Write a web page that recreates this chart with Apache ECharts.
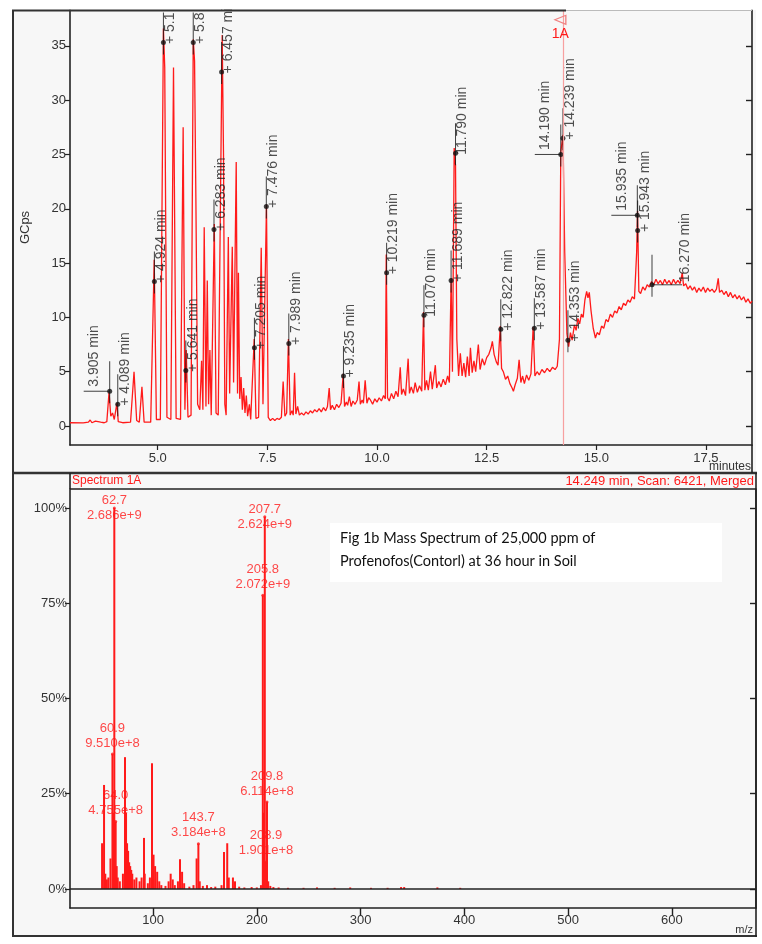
<!DOCTYPE html>
<html>
<head>
<meta charset="utf-8">
<script src="https://cdn.jsdelivr.net/npm/echarts@6/dist/echarts.min.js"></script>
<style>
  html, body { margin: 0; padding: 0; background: #fff; }
  #main { width: 762px; height: 944px; }
</style>
</head>
<body>
<div id="main"></div>
<script>
// chromatogram trace: [minutes, GCps]
var chromatogram = [
  [3.00,0.30],[3.30,0.28],[3.42,0.35],[3.46,0.55],[3.50,0.30],[3.58,0.45],[3.62,0.30],[3.70,0.35],[3.78,0.30],[3.84,0.40],
  [3.89,3.10],[3.93,0.90],[3.97,1.20],[4.01,0.60],[4.07,2.10],[4.10,0.40],[4.20,0.30],[4.38,0.35],
  [4.46,5.00],[4.52,0.50],[4.58,0.35],[4.64,3.60],[4.69,0.35],[4.84,0.35],
  [4.92,15.3],[4.97,0.6],[5.06,0.6],[5.13,36.6],[5.16,33.0],[5.21,0.8],[5.30,0.6],[5.36,33.0],[5.42,0.7],
  [5.52,0.6],[5.58,27.5],[5.62,1.5],[5.65,7.0],[5.69,0.8],[5.76,1.0],[5.81,35.6],[5.84,33.6],[5.87,21.0],[5.91,2.0],
  [5.96,1.5],[6.00,6.0],[6.03,1.5],[6.06,18.3],[6.10,1.8],[6.13,13.4],[6.16,2.0],[6.19,7.0],[6.22,1.0],
  [6.29,18.6],[6.33,1.2],[6.38,1.0],[6.47,36.0],[6.50,25.0],[6.53,2.0],[6.56,1.0],[6.61,17.4],[6.64,3.0],
  [6.70,16.5],[6.73,4.0],[6.79,24.3],[6.82,3.0],[6.84,14.1],[6.87,2.5],[6.90,4.5],[6.93,1.5],[6.96,3.5],[6.99,1.2],
  [7.02,2.8],[7.05,0.9],[7.09,2.0],[7.12,0.6],[7.20,8.0],[7.24,0.7],[7.30,0.8],[7.36,16.4],[7.40,2.0],
  [7.48,20.4],[7.52,0.8],[7.57,0.5],[7.62,0.7],[7.67,0.5],[7.72,0.7],[7.77,0.6],[7.82,0.8],[7.86,4.1],[7.90,0.9],
  [7.94,1.2],[7.98,8.0],[8.02,1.0],[8.06,1.4],[8.09,1.0],[8.12,4.9],[8.15,1.1],[8.19,1.8],[8.23,1.0],[8.28,1.2],
  [8.33,1.0],[8.38,1.3],[8.43,1.1],[8.48,1.4],[8.53,1.2],[8.58,1.5],[8.63,1.3],[8.68,1.6],[8.73,1.3],[8.78,1.7],
  [8.83,1.4],[8.87,1.8],[8.91,3.5],[8.94,1.5],[8.98,1.9],[9.03,1.5],[9.08,2.0],[9.13,1.7],[9.18,2.1],[9.23,4.8],
  [9.26,1.8],[9.30,2.2],[9.33,1.9],[9.37,2.7],[9.41,1.8],[9.45,2.3],[9.50,2.0],[9.55,2.4],[9.59,4.1],[9.62,2.0],
  [9.66,2.4],[9.69,2.1],[9.73,4.2],[9.77,2.1],[9.81,2.6],[9.85,2.4],[9.90,2.0],[9.95,2.5],[10.00,2.2],[10.05,2.6],
  [10.10,2.3],[10.15,2.8],[10.19,2.5],[10.21,15.8],[10.24,2.6],[10.28,2.3],[10.33,3.0],[10.38,2.5],[10.43,3.2],
  [10.48,2.7],[10.53,5.4],[10.56,2.9],[10.60,3.4],[10.65,2.8],[10.71,6.2],[10.74,3.0],[10.78,3.6],[10.83,3.0],
  [10.87,4.0],[10.92,3.1],[10.97,3.7],[11.02,3.2],[11.06,10.5],[11.09,3.3],[11.13,4.2],[11.17,3.3],[11.22,5.0],
  [11.26,3.4],[11.33,5.6],[11.36,3.5],[11.41,4.1],[11.46,3.6],[11.51,4.3],[11.56,3.8],[11.61,4.6],[11.65,4.0],
  [11.69,13.6],[11.72,5.0],[11.76,25.6],[11.79,24.0],[11.82,8.0],[11.86,4.6],[11.90,6.7],[11.94,4.6],[11.98,5.8],
  [12.02,4.5],[12.06,6.4],[12.10,4.6],[12.13,7.2],[12.17,4.9],[12.21,6.0],[12.25,5.0],[12.31,7.5],[12.35,5.2],
  [12.40,6.2],[12.45,5.6],[12.50,6.3],[12.55,6.6],[12.60,7.2],[12.63,7.8],[12.67,6.6],[12.72,5.9],[12.76,5.6],
  [12.81,9.2],[12.84,5.3],[12.88,5.0],[12.93,4.3],[12.98,4.6],[13.03,3.9],[13.08,3.5],[13.11,3.2],[13.15,3.8],
  [13.20,4.4],[13.24,6.1],[13.28,4.0],[13.32,4.6],[13.36,3.9],[13.41,4.7],[13.46,4.2],[13.51,4.8],[13.56,9.1],
  [13.60,4.6],[13.65,5.0],[13.70,4.7],[13.76,5.2],[13.82,4.9],[13.88,5.3],[13.94,5.0],[14.00,5.4],[14.06,5.2],
  [14.11,5.5],[14.16,8.0],[14.19,25.2],[14.24,26.8],[14.28,16.0],[14.33,8.5],[14.37,7.3],[14.41,8.6],[14.45,7.9],
  [14.50,9.3],[14.54,8.8],[14.58,9.9],[14.62,9.4],[14.66,10.3],[14.70,10.0],[14.74,11.6],[14.78,12.4],[14.81,11.8],
  [14.84,12.3],[14.88,10.6],[14.93,9.0],[14.98,8.1],[15.02,8.6],[15.07,8.4],[15.12,9.2],[15.17,9.0],[15.22,9.8],
  [15.27,9.6],[15.32,10.3],[15.37,10.0],[15.42,10.6],[15.47,10.4],[15.52,11.0],[15.57,10.7],[15.62,11.3],
  [15.67,11.1],[15.72,11.6],[15.77,11.4],[15.82,11.9],[15.87,11.7],[15.92,16.0],[15.94,19.8],[15.97,12.4],
  [16.01,12.2],[16.06,12.8],[16.11,12.5],[16.16,13.0],[16.21,12.8],[16.26,13.3],[16.31,13.0],[16.36,13.5],
  [16.41,13.1],[16.46,13.4],[16.51,13.0],[16.56,13.5],[16.61,13.1],[16.66,13.4],[16.71,13.0],[16.76,13.5],
  [16.81,13.1],[16.86,13.4],[16.91,13.1],[16.96,14.1],[16.99,12.9],[17.04,13.1],[17.09,12.6],[17.14,12.9],
  [17.19,12.5],[17.24,12.8],[17.29,12.3],[17.34,12.7],[17.39,12.4],[17.44,12.8],[17.49,12.3],[17.54,12.7],
  [17.59,12.4],[17.64,12.6],[17.69,12.3],[17.74,12.6],[17.78,13.6],[17.81,12.3],[17.86,12.5],[17.91,12.1],
  [17.96,12.4],[18.01,11.9],[18.06,12.3],[18.11,11.8],[18.16,12.1],[18.21,11.7],[18.26,12.0],[18.31,11.6],
  [18.36,11.9],[18.41,11.4],[18.46,11.7],[18.51,11.3],[18.55,11.5]
];

// integrated peak markers: [minutes, GCps, text]
var peakLabels = [
  [3.905, 3.2, '3.905 min'],
  [4.089, 2.0, '+ 4.089 min'],
  [4.924, 13.3, '+ 4.924 min'],
  [5.13, 35.3, '+ 5.1'],
  [5.641, 5.1, '+ 5.641 min'],
  [5.81, 35.3, '+ 5.8'],
  [6.283, 18.1, '+ 6.283 min'],
  [6.457, 32.6, '+ 6.457 min'],
  [7.205, 7.2, '+ 7.205 min'],
  [7.476, 20.2, '+ 7.476 min'],
  [7.989, 7.6, '+ 7.989 min'],
  [9.235, 4.6, '+ 9.235 min'],
  [10.219, 14.1, '+ 10.219 min'],
  [11.070, 10.2, '11.070 min'],
  [11.689, 13.4, '+ 11.689 min'],
  [11.790, 25.1, '11.790 min'],
  [12.822, 8.9, '+ 12.822 min'],
  [13.587, 9.0, '+ 13.587 min'],
  [14.190, 25.0, '14.190 min'],
  [14.239, 26.5, '+ 14.239 min'],
  [14.353, 7.9, '+ 14.353 min'],
  [15.935, 19.4, '15.935 min'],
  [15.943, 18.0, '+ 15.943 min'],
  [16.270, 13.0, '16.270 min']
];

var timeTicks = [5.0, 7.5, 10.0, 12.5, 15.0, 17.5];
var intensityTicks = [0, 5, 10, 15, 20, 25, 30, 35];

// mass spectrum sticks: [m/z, % of base peak]
var spectrumPeaks = [
  [50.9,12.0],[52.8,27.3],[54.0,4.0],[55.5,2.5],[57.0,3.0],[59.0,8.0],[60.9,35.4],[61.8,20.0],[62.7,100],
  [64.0,17.7],[65.0,6.0],[66.0,3.0],[68.0,2.0],[71.0,4.0],[73.0,34.6],[74.0,20.0],[75.0,12.0],[76.0,10.0],
  [77.0,7.0],[78.0,6.0],[79.0,5.0],[80.0,4.0],[82.0,2.5],[84.0,3.0],[87.0,2.0],[89.0,3.0],[91.3,13.4],[92.0,4.0],
  [95.0,1.5],[97.0,3.0],[99.0,33.0],[100.5,9.0],[102.0,6.0],[104.0,4.5],[106.0,2.0],[108.0,1.0],[112.0,0.8],
  [115.0,2.0],[117.0,4.0],[119.0,2.5],[121.0,1.0],[124.0,2.0],[126.0,7.8],[128.0,4.5],[130.0,1.5],[135.0,0.6],
  [139.0,1.0],[142.0,8.0],[143.7,11.9],[145.0,2.0],[148.0,0.8],[152.0,1.0],[156.0,0.5],[160.0,0.6],[166.0,1.0],
  [168.4,9.7],[171.5,12.0],[173.0,3.0],[177.0,3.0],[179.0,2.0],[183.0,0.6],[188.0,0.4],[195.0,0.5],[200.0,0.4],
  [204.0,1.0],[205.8,77.1],[206.5,20.0],[207.7,97.7],[208.9,7.1],[209.8,22.8],[211.0,2.0],[213.0,0.8],
  [216.0,0.5],[221.0,0.4],[230.0,0.3],[245.0,0.3],[258.0,0.4],[275.0,0.3],[290.0,0.4],[310.0,0.3],
  [326.0,0.3],[339.0,0.5],[342.0,0.5],[374.0,0.4],[396.0,0.3]
];

// labelled ions
var ionMz = [62.7, 60.9, 64.0, 143.7, 207.7, 205.8, 209.8, 208.9];
var ionPct = [100, 35.4, 17.7, 11.9, 97.7, 77.1, 22.8, 7.1];
var ionAbundance = ['2.686e+9', '9.510e+8', '4.755e+8', '3.184e+8', '2.624e+9', '2.072e+9', '6.114e+8', '1.901e+8'];

var mzTicks = [100, 200, 300, 400, 500, 600];
var percentTicks = [0, 25, 50, 75, 100];

var leftBracket = ['3.905 min', '14.190 min', '15.935 min'];
var rightBracket = ['16.270 min'];

var chart = echarts.init(document.getElementById('main'));
var ink = '#222';
var red = '#ff1a1a';
var font = 'Liberation Sans, Arial, sans-serif';

var markerDots = peakLabels.map(function (p) {
  var pos = [9.5, 4];
  if (leftBracket.indexOf(p[2]) >= 0) pos = [-13, -2];
  if (rightBracket.indexOf(p[2]) >= 0) pos = [36, 0];
  return {
    value: [p[0], p[1]],
    label: { position: pos, formatter: p[2] }
  };
});
var markerStems = peakLabels.map(function (p) { return [p[0], p[1]]; });
var leftBars = peakLabels.filter(function (p) { return leftBracket.indexOf(p[2]) >= 0; })
  .map(function (p) { return [p[0], p[1]]; });
var rightBars = peakLabels.filter(function (p) { return rightBracket.indexOf(p[2]) >= 0; })
  .map(function (p) { return [p[0], p[1]]; });

var ionData = ionMz.map(function (m, i) {
  var item = { value: [m, ionPct[i]], name: m.toFixed(1) + '\n' + ionAbundance[i] };
  if (ionPct[i] > 95) item.label = { position: 'inside' };
  return item;
});

function axisLine() {
  return { show: true, onZero: false, lineStyle: { color: ink, width: 1.6 } };
}

var option = {
  backgroundColor: '#fff',
  animation: false,
  grid: [
    { left: 70, right: 10, top: 10, height: 435 },
    { left: 70, right: 6, top: 489, height: 419 }
  ],
  xAxis: [
    {
      gridIndex: 0, type: 'value', min: 3.0, max: 18.55,
      axisLine: axisLine(),
      axisTick: { show: true, length: 5, customValues: timeTicks, lineStyle: { color: ink, width: 1.2 } },
      axisLabel: { customValues: timeTicks, color: '#333', fontSize: 13, fontFamily: font, margin: 7,
        formatter: function (v) { return v.toFixed(1); } },
      splitLine: { show: false }
    },
    {
      gridIndex: 1, type: 'value', min: 20, max: 681,
      axisLine: axisLine(),
      axisTick: { show: true, length: 8, customValues: mzTicks, lineStyle: { color: ink, width: 1.4 } },
      axisLabel: { customValues: mzTicks, color: '#333', fontSize: 13, fontFamily: font, margin: 6 },
      splitLine: { show: false }
    }
  ],
  yAxis: [
    {
      gridIndex: 0, type: 'value', min: -1.75, max: 38.3,
      name: 'GCps', nameLocation: 'middle', nameGap: 38, nameRotate: 90,
      nameTextStyle: { color: '#333', fontSize: 13, fontFamily: font },
      axisLine: axisLine(),
      axisTick: { show: true, length: 5, customValues: intensityTicks, lineStyle: { color: ink, width: 1.2 } },
      axisLabel: { customValues: intensityTicks, color: '#333', fontSize: 13, fontFamily: font, margin: 4 },
      splitLine: { show: false }
    },
    {
      gridIndex: 0, type: 'value', min: -1.75, max: 38.3, position: 'right',
      axisLine: axisLine(),
      axisTick: { show: true, inside: true, length: 6, customValues: intensityTicks, lineStyle: { color: ink, width: 1.4 } },
      axisLabel: { show: false },
      splitLine: { show: false }
    },
    {
      gridIndex: 1, type: 'value', min: -5, max: 105,
      axisLine: axisLine(),
      axisTick: { show: true, length: 5, customValues: percentTicks, lineStyle: { color: ink, width: 1.2 } },
      axisLabel: { customValues: percentTicks, color: '#333', fontSize: 13, fontFamily: font, margin: 3,
        formatter: '{value}%' },
      splitLine: { show: false }
    },
    {
      gridIndex: 1, type: 'value', min: -5, max: 105, position: 'right',
      axisLine: axisLine(),
      axisTick: { show: true, inside: true, length: 6, customValues: percentTicks, lineStyle: { color: ink, width: 1.4 } },
      axisLabel: { show: false },
      splitLine: { show: false }
    }
  ],
  series: [
    {
      name: 'TIC', type: 'line', xAxisIndex: 0, yAxisIndex: 0,
      data: chromatogram, showSymbol: false, clip: true,
      lineStyle: { color: red, width: 1.3 },
      markLine: {
        silent: true, symbol: 'none',
        label: { show: false },
        lineStyle: { color: '#f7a0a0', width: 1.2, type: 'solid' },
        data: [{ xAxis: 14.249 }]
      },
      markPoint: {
        silent: true,
        symbol: 'triangle', symbolSize: [9, 11], symbolRotate: 90,
        itemStyle: { color: 'rgba(0,0,0,0)', borderColor: '#f08080', borderWidth: 1.2 },
        label: { show: true, position: 'bottom', distance: 2, formatter: '1A',
          color: red, fontSize: 14, fontFamily: font },
        data: [{ coord: [14.18, 37.4] }]
      }
    },
    {
      type: 'scatter', xAxisIndex: 0, yAxisIndex: 0, silent: true,
      data: markerStems, symbol: 'rect', symbolSize: [1, 42], symbolOffset: [0, -9],
      itemStyle: { color: '#111' }, z: 3
    },
    {
      type: 'scatter', xAxisIndex: 0, yAxisIndex: 0, silent: true,
      data: leftBars, symbol: 'rect', symbolSize: [26, 1], symbolOffset: [-13, 0],
      itemStyle: { color: '#111' }, z: 3
    },
    {
      type: 'scatter', xAxisIndex: 0, yAxisIndex: 0, silent: true,
      data: rightBars, symbol: 'rect', symbolSize: [30, 1], symbolOffset: [15, 0],
      itemStyle: { color: '#111' }, z: 3
    },
    {
      type: 'scatter', xAxisIndex: 0, yAxisIndex: 0, silent: true,
      data: markerDots, symbol: 'circle', symbolSize: 5,
      itemStyle: { color: '#111' }, z: 4,
      label: {
        show: true, rotate: 90, align: 'left', verticalAlign: 'middle',
        color: '#222', fontSize: 14, fontFamily: font
      }
    },
    {
      name: 'Spectrum 1A', type: 'bar', xAxisIndex: 1, yAxisIndex: 2,
      data: spectrumPeaks, barWidth: 2, itemStyle: { color: red },
      markLine: {
        silent: true, symbol: 'none', label: { show: false },
        lineStyle: { color: ink, width: 1.6, type: 'solid' },
        data: [{ yAxis: 0 }]
      }
    },
    {
      type: 'scatter', xAxisIndex: 1, yAxisIndex: 2, silent: true,
      data: ionData, symbolSize: 3, itemStyle: { color: red }, z: 5,
      label: {
        show: true, position: 'top', distance: 2, formatter: '{b}',
        color: red, fontSize: 13, lineHeight: 15, fontFamily: font
      }
    }
  ],
  graphic: [
    { type: 'rect', z: -100, shape: { x: 12, y: 10, width: 744, height: 927 }, style: { fill: '#f7f7f7' } },
    { type: 'rect', z: 100, shape: { x: 0, y: 0, width: 762, height: 9.5 }, style: { fill: '#fff' } },
    { type: 'line', z: 100, shape: { x1: 12, y1: 10.5, x2: 566, y2: 10.5 }, style: { stroke: '#333', lineWidth: 2 } },
    { type: 'line', z: 100, shape: { x1: 566, y1: 10.5, x2: 752, y2: 10.5 }, style: { stroke: '#bbb', lineWidth: 1 } },
    { type: 'line', z: 50, shape: { x1: 13, y1: 10, x2: 13, y2: 937 }, style: { stroke: '#333', lineWidth: 2 } },
    { type: 'line', z: 50, shape: { x1: 12, y1: 936, x2: 757, y2: 936 }, style: { stroke: '#333', lineWidth: 2 } },
    { type: 'line', z: 50, shape: { x1: 12, y1: 473, x2: 757, y2: 473 }, style: { stroke: '#333', lineWidth: 2.5 } },
    { type: 'line', z: 50, shape: { x1: 70, y1: 489, x2: 756, y2: 489 }, style: { stroke: '#222', lineWidth: 1.6 } },
    { type: 'line', z: 50, shape: { x1: 70, y1: 473, x2: 70, y2: 489 }, style: { stroke: '#222', lineWidth: 1.6 } },
    { type: 'line', z: 50, shape: { x1: 756, y1: 473, x2: 756, y2: 937 }, style: { stroke: '#222', lineWidth: 1.6 } },
    { type: 'line', z: 50, shape: { x1: 752, y1: 445, x2: 752, y2: 473 }, style: { stroke: '#222', lineWidth: 1.6 } },
    { type: 'text', z: 50, x: 72, y: 481, style: { text: 'Spectrum 1A', fill: red, font: '12px Liberation Sans', verticalAlign: 'middle' } },
    { type: 'text', z: 50, x: 754, y: 481, style: { text: '14.249 min, Scan: 6421, Merged', fill: red, font: '13px Liberation Sans', align: 'right', verticalAlign: 'middle' } },
    { type: 'text', z: 50, x: 751, y: 467, style: { text: 'minutes', fill: '#333', font: '12px Liberation Sans', align: 'right', verticalAlign: 'middle' } },
    { type: 'text', z: 50, x: 753, y: 930, style: { text: 'm/z', fill: '#333', font: '11px Liberation Sans', align: 'right', verticalAlign: 'middle' } },
    { type: 'rect', z: 60, shape: { x: 330, y: 523, width: 392, height: 59 }, style: { fill: '#fff' } },
    { type: 'text', z: 61, x: 340, y: 538, style: { text: 'Fig 1b Mass Spectrum of 25,000 ppm of', fill: '#111', font: '14.5px Lato', verticalAlign: 'middle' } },
    { type: 'text', z: 61, x: 340, y: 561, style: { text: 'Profenofos(Contorl) at 36 hour in Soil', fill: '#111', font: '14.5px Lato', verticalAlign: 'middle' } }
  ]
};

chart.setOption(option);
</script>
</body>
</html>
